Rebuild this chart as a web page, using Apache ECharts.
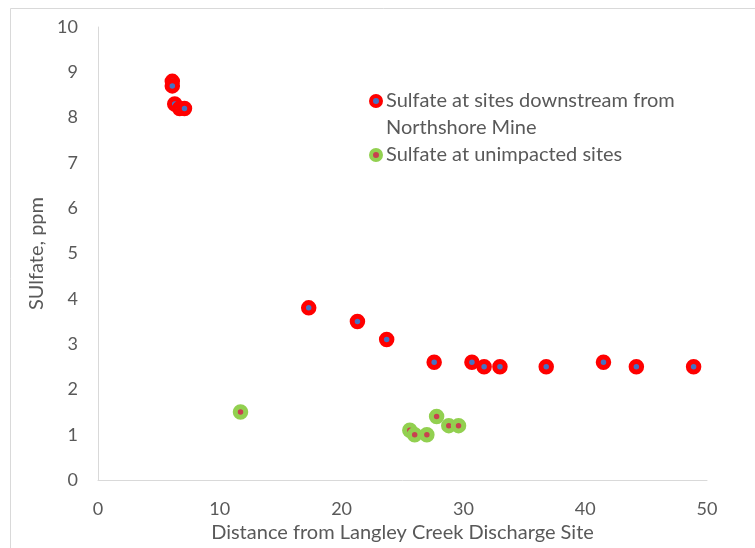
<!DOCTYPE html>
<html>
<head>
<meta charset="utf-8">
<script src="https://cdn.jsdelivr.net/npm/echarts@6/dist/echarts.min.js"></script>
<style>
html,body{margin:0;padding:0;background:#fff;}
#chart{width:755px;height:548px;}
</style>
</head>
<body>
<div id="chart"></div>
<script>
// Sulfate at sites downstream from Northshore Mine: [distance, sulfate ppm]
var downstreamDistance = [6.1, 6.1, 6.3, 6.7, 7.1, 17.3, 21.3, 23.7, 27.6, 30.7, 31.7, 33.0, 36.8, 41.5, 44.2, 48.9];
var downstreamSulfate  = [8.8, 8.7, 8.3, 8.2, 8.2, 3.8, 3.5, 3.1, 2.6, 2.6, 2.5, 2.5, 2.5, 2.6, 2.5, 2.5];
// Sulfate at unimpacted sites
var unimpactedDistance = [11.7, 25.6, 26.0, 27.0, 27.8, 28.8, 29.6];
var unimpactedSulfate  = [1.5, 1.1, 1.0, 1.0, 1.4, 1.2, 1.2];

var xTicks = [0, 10, 20, 30, 40, 50];
var yTicks = [0, 1, 2, 3, 4, 5, 6, 7, 8, 9, 10];

var seriesNames = ['Sulfate at sites downstream from Northshore Mine', 'Sulfate at unimpacted sites'];

function pairs(xs, ys) { return xs.map(function (x, i) { return [x, ys[i]]; }); }

var FONT = 'Lato';
var TXT = '#595959';
var AXIS = '#d9d9d9';

var chart = echarts.init(document.getElementById('chart'), null, {renderer: 'canvas'});
chart.setOption({
  animation: false,
  backgroundColor: '#ffffff',
  textStyle: {fontFamily: FONT, color: TXT},
  graphic: [{
    type: 'rect', silent: true, z: -1,
    shape: {x: 10.5, y: 8.5, width: 800, height: 600},
    style: {fill: 'none', stroke: AXIS, lineWidth: 1}
  }],
  grid: {left: 98, top: 27, right: 48, bottom: 64, containLabel: false},
  xAxis: {
    type: 'value', min: xTicks[0], max: xTicks[xTicks.length - 1], interval: 10,
    name: 'Distance from Langley Creek Discharge Site',
    nameLocation: 'middle', nameGap: 43,
    nameTextStyle: {fontFamily: FONT, fontSize: 20, color: TXT},
    axisLine: {show: true, lineStyle: {color: AXIS, width: 1}},
    axisTick: {show: false},
    splitLine: {show: false},
    axisLabel: {fontFamily: FONT, fontSize: 18, color: TXT, margin: 20}
  },
  yAxis: {
    type: 'value', min: yTicks[0], max: yTicks[yTicks.length - 1], interval: 1,
    name: 'SUlfate, ppm',
    nameLocation: 'middle', nameGap: 48,
    nameTextStyle: {fontFamily: FONT, fontSize: 20, color: TXT},
    axisLine: {show: true, lineStyle: {color: AXIS, width: 1}},
    axisTick: {show: false},
    splitLine: {show: false},
    axisLabel: {fontFamily: FONT, fontSize: 18, color: TXT, margin: 20}
  },
  legend: [{
    data: [{name: seriesNames[0], itemStyle: {color: '#4472c4', borderColor: '#ff0000', borderWidth: 4}}],
    left: 369, top: 60.5, padding: 0,
    itemWidth: 10, itemHeight: 10, icon: 'circle',
    formatter: function (n) { return '\n' + n.replace(' Northshore', '\nNorthshore'); },
    textStyle: {fontFamily: FONT, fontSize: 20, color: TXT, lineHeight: 27}
  }, {
    data: [{name: seriesNames[1], itemStyle: {color: '#c8414f', borderColor: '#92d050', borderWidth: 4}}],
    left: 369, top: 141.5, padding: 0,
    itemWidth: 10, itemHeight: 10, icon: 'circle',
    textStyle: {fontFamily: FONT, fontSize: 20, color: TXT, lineHeight: 27}
  }],
  series: [{
    name: seriesNames[0], type: 'scatter',
    data: pairs(downstreamDistance, downstreamSulfate),
    symbol: 'circle', symbolSize: 10.5,
    itemStyle: {color: '#4472c4', borderColor: '#ff0000', borderWidth: 5, opacity: 1}
  }, {
    name: seriesNames[1], type: 'scatter',
    data: pairs(unimpactedDistance, unimpactedSulfate),
    symbol: 'circle', symbolSize: 10.5,
    itemStyle: {color: '#c8414f', borderColor: '#92d050', borderWidth: 5, opacity: 1}
  }]
});
</script>
</body>
</html>
